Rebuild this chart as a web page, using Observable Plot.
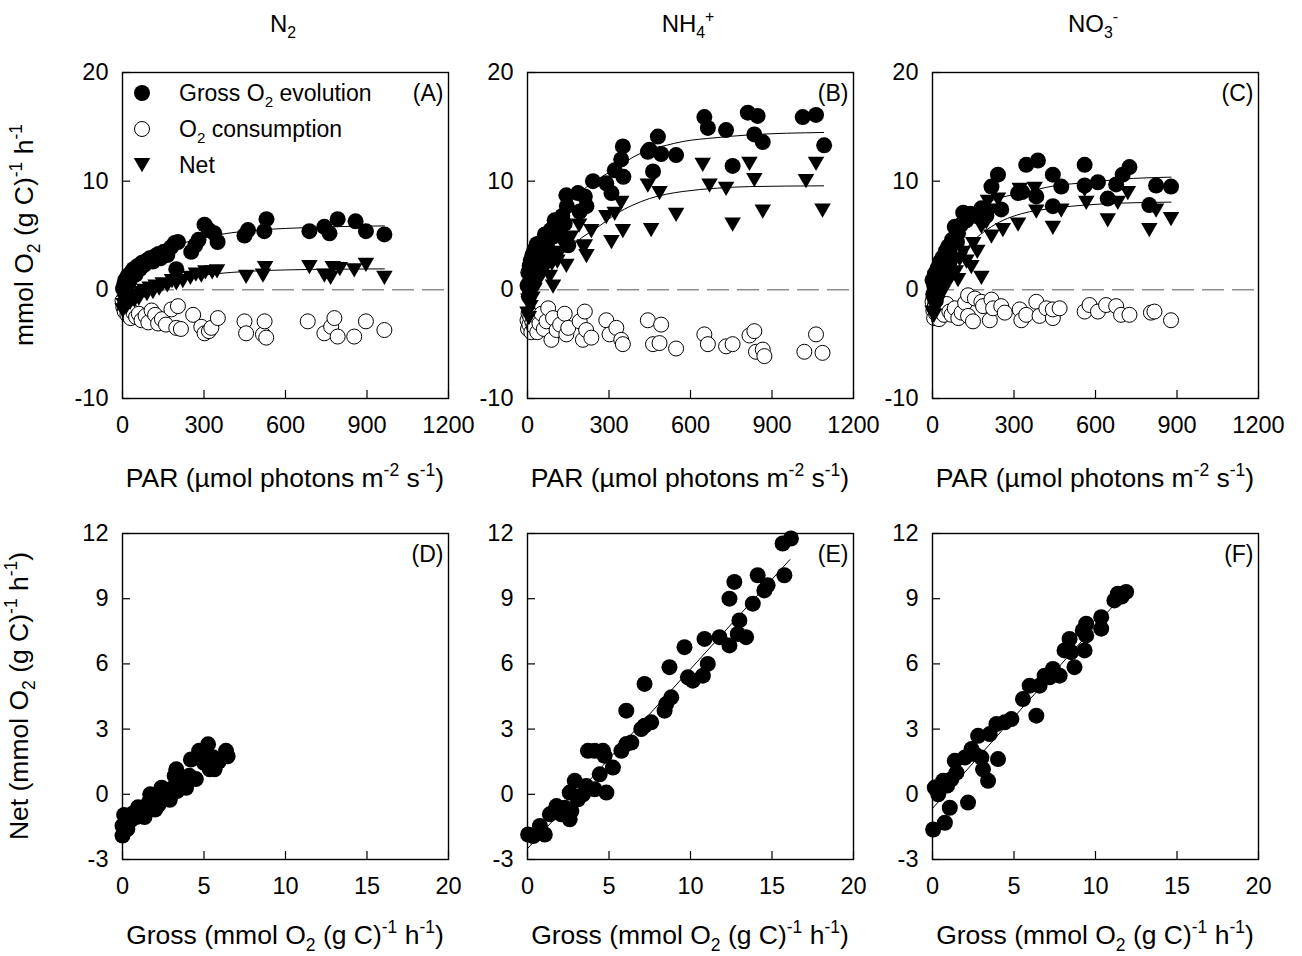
<!DOCTYPE html>
<html><head><meta charset="utf-8">
<script src="https://cdn.jsdelivr.net/npm/d3@7"></script>
<script src="https://cdn.jsdelivr.net/npm/@observablehq/plot@0.6"></script>
<style>
body{margin:0;background:#fff;}
#fig{position:relative;width:1302px;height:956px;overflow:hidden;font-family:"Liberation Sans",Arial,Helvetica,sans-serif;}
#fig svg.panel{position:absolute;}
</style></head><body><div id="fig"></div>
<script>
// ---------- data: [PAR, rate] ----------
const grossA = [[2,0.1],[6,0.5],[10,0.9],[14,0.3],[20,1.3],[26,0.8],[32,1.6],[40,1.9],[48,1.4],[56,2.2],[64,1.9],[72,2.5],[80,2.3],[90,2.7],[100,2.9],[112,2.6],[120,3.1],[132,3.3],[140,2.9],[152,3.5],[165,3.2],[178,3.9],[192,4.3],[198,1.9],[204,4.4],[253,3.5],[268,4.1],[280,4.6],[302,6.0],[318,5.5],[338,5.2],[350,4.4],[449,5.0],[462,5.5],[522,5.4],[530,6.5],[688,5.4],[743,5.8],[762,5.2],[792,6.5],[858,6.3],[896,5.4],[964,5.1]];
const netA = [[0,-1.9],[4,-1.4],[8,-1.1],[14,-1.6],[20,-0.9],[28,-1.2],[36,-0.7],[44,-1.0],[52,-0.5],[60,-0.8],[70,-0.3],[80,-0.1],[90,-0.4],[100,0.1],[112,-0.2],[122,0.3],[135,0.1],[148,0.5],[165,0.4],[182,0.8],[198,0.6],[222,0.8],[250,1.1],[270,1.4],[290,1.3],[305,1.6],[330,1.6],[348,1.7],[455,1.2],[517,1.3],[525,2.0],[688,2.1],[743,1.3],[766,1.1],[774,2.0],[800,1.9],[853,1.8],[896,2.3],[964,1.1]];
const consA = [[0,-1.0],[3,-1.6],[8,-2.0],[12,-1.4],[18,-2.3],[25,-1.8],[30,-2.6],[40,-2.1],[50,-2.5],[60,-2.2],[70,-2.8],[85,-2.4],[95,-3.0],[107,-1.9],[120,-2.3],[131,-3.1],[145,-2.7],[160,-3.2],[180,-1.8],[198,-3.5],[204,-1.5],[215,-3.6],[260,-2.3],[290,-3.4],[302,-4.0],[318,-3.8],[327,-3.5],[351,-2.6],[449,-2.9],[455,-4.0],[517,-4.1],[523,-2.9],[529,-4.4],[682,-2.9],[743,-4.0],[768,-3.4],[780,-2.6],[792,-4.3],[853,-4.3],[896,-2.9],[964,-3.7]];

const grossB = [[0,0.4],[3,1.6],[5,-0.6],[8,2.2],[10,0.9],[12,2.7],[15,1.3],[18,3.2],[22,2.0],[26,3.7],[30,1.6],[34,4.2],[40,2.9],[46,3.5],[52,4.4],[58,3.0],[64,5.1],[72,4.0],[76,4.6],[85,5.5],[94,4.9],[100,6.4],[110,5.6],[119,5.0],[128,6.8],[137,6.1],[143,8.7],[145,7.7],[150,4.1],[186,8.9],[192,7.2],[211,8.6],[217,7.7],[241,10.0],[290,9.8],[309,8.9],[321,11.0],[345,12.0],[351,13.2],[353,10.4],[443,12.7],[449,12.9],[462,10.9],[480,14.1],[492,12.5],[547,12.4],[651,15.9],[664,14.9],[731,14.7],[755,11.4],[811,16.3],[835,14.3],[847,16.0],[866,13.6],[1013,15.9],[1062,16.1],[1092,13.3]];
const netB = [[0,-2.2],[3,-1.0],[5,-2.6],[8,-0.4],[11,-1.6],[14,0.4],[18,-0.8],[22,1.1],[26,0.0],[30,1.6],[35,0.6],[40,2.0],[46,1.2],[52,2.6],[58,1.6],[64,3.0],[70,2.2],[82,1.2],[90,2.4],[94,0.3],[100,3.2],[110,2.6],[119,3.4],[130,4.2],[143,2.2],[160,4.8],[190,5.9],[205,3.9],[211,4.0],[217,3.1],[235,5.4],[290,6.7],[309,4.4],[321,7.0],[345,8.0],[351,5.4],[443,9.6],[455,5.5],[486,8.9],[547,6.9],[645,11.5],[670,9.6],[731,9.3],[755,6.0],[817,11.6],[835,10.1],[866,7.2],[1025,10.0],[1062,11.6],[1086,7.3]];
const consB = [[0,-2.8],[2,-3.6],[4,-2.2],[7,-3.2],[10,-2.5],[14,-3.9],[18,-3.0],[24,-3.4],[30,-2.4],[36,-3.9],[44,-3.1],[52,-2.2],[60,-3.6],[70,-2.9],[76,-1.7],[88,-4.6],[94,-2.6],[107,-3.7],[120,-3.2],[137,-2.2],[143,-4.1],[150,-3.5],[192,-2.9],[204,-4.6],[211,-2.0],[216,-3.7],[235,-4.4],[290,-2.8],[302,-4.1],[327,-3.5],[345,-4.6],[351,-5.0],[443,-2.8],[462,-5.0],[486,-4.9],[492,-3.2],[547,-5.4],[651,-4.1],[664,-5.0],[731,-5.2],[755,-5.0],[817,-4.2],[835,-3.8],[841,-5.7],[866,-5.5],[872,-6.1],[1019,-5.7],[1062,-4.1],[1086,-5.8]];

const grossC = [[0,0.9],[3,-0.4],[6,0.4],[9,1.5],[12,-1.0],[15,0.8],[19,2.0],[23,1.2],[28,2.6],[33,2.1],[38,3.0],[44,2.4],[50,3.6],[58,4.0],[64,3.3],[72,4.6],[82,5.8],[90,4.4],[94,5.2],[105,6.0],[113,7.1],[125,6.4],[140,7.0],[160,6.8],[180,7.5],[198,6.8],[217,9.5],[241,10.6],[253,7.4],[315,8.9],[330,9.0],[345,11.5],[382,8.6],[388,11.9],[443,10.6],[443,7.7],[474,9.5],[560,11.5],[560,9.6],[609,9.9],[645,8.4],[676,9.7],[700,10.6],[725,11.3],[798,7.8],[823,9.6],[878,9.5]];
const netC = [[0,-2.1],[3,-1.3],[5,-2.4],[8,-0.9],[11,-1.7],[14,-0.4],[18,-1.2],[22,0.2],[27,-0.6],[32,0.8],[38,-0.2],[45,1.3],[52,0.5],[60,1.8],[68,1.1],[76,2.4],[86,1.6],[94,0.9],[100,2.8],[112,3.4],[125,2.6],[143,2.1],[150,4.2],[165,3.5],[180,1.1],[180,5.8],[198,6.2],[204,8.1],[217,4.9],[217,7.3],[241,8.3],[259,5.5],[315,6.0],[321,9.2],[376,9.3],[382,7.2],[443,5.7],[474,7.3],[560,9.2],[566,8.0],[645,6.4],[682,8.0],[719,8.9],[798,5.5],[823,7.3],[878,6.5]];
const consC = [[0,-1.1],[3,-1.9],[6,-2.6],[9,-1.4],[13,-2.2],[18,-1.0],[24,-2.7],[32,-1.7],[42,-2.3],[52,-1.3],[62,-2.0],[70,-2.3],[82,-1.7],[95,-2.6],[107,-2.1],[120,-1.2],[131,-2.4],[131,-0.5],[149,-2.9],[156,-0.8],[180,-1.1],[186,-1.5],[211,-2.8],[217,-0.9],[223,-1.7],[253,-1.5],[266,-2.1],[321,-1.8],[327,-2.8],[345,-2.3],[382,-1.1],[394,-2.4],[419,-1.7],[443,-2.6],[443,-1.8],[468,-1.7],[560,-2.0],[578,-1.4],[609,-2.0],[639,-1.4],[676,-1.5],[694,-2.3],[725,-2.3],[804,-2.1],[817,-2.0],[878,-2.8]];

// fitted P-I curves
const fitParA = [0,50,100,150,200,300,400,500,600,700,800,964];
const fitGrossA = [-0.5,1.5,2.8,3.6,4.1,4.8,5.25,5.5,5.65,5.75,5.82,5.88];
const fitNetA = [-1.7,-0.7,0.0,0.5,0.85,1.35,1.6,1.75,1.83,1.88,1.9,1.93];
const fitParB = [0,50,100,150,200,266,327,388,449,511,572,694,817,1090];
const fitGrossB = [0.3,3.5,6.0,7.8,9.1,10.3,11.2,12.2,12.9,13.3,13.65,14.0,14.26,14.48];
const fitNetB = [-1.5,1.0,2.6,3.8,4.8,5.9,7.0,7.8,8.4,8.8,9.05,9.35,9.5,9.57];
const fitParC = [0,50,100,150,204,260,327,449,572,694,878];
const fitGrossC = [0.0,3.5,5.8,7.2,8.05,8.55,8.9,9.57,9.88,10.18,10.37];
const fitNetC = [-1.5,1.0,3.0,4.5,5.6,6.4,7.0,7.52,7.82,7.98,8.07];

// ---------- data: [gross, net] ----------
const gnD = [[0.0,-1.9],[0.0,-1.45],[0.1,-0.95],[0.25,-1.3],[0.3,-1.6],[0.5,-1.2],[0.6,-0.9],[0.85,-1.05],[0.95,-0.6],[1.1,-0.85],[1.35,-1.05],[1.45,-0.75],[1.6,-0.4],[1.7,0.0],[1.8,-0.45],[2.0,-0.7],[2.2,-0.5],[2.3,-0.2],[2.4,0.3],[2.6,-0.15],[2.9,-0.25],[3.1,0.3],[3.2,0.85],[3.3,1.15],[3.35,0.15],[3.6,0.45],[3.9,0.3],[4.1,0.85],[4.2,1.6],[4.5,0.7],[4.7,2.0],[4.85,1.85],[5.0,1.45],[5.25,2.3],[5.35,1.15],[5.55,1.7],[5.65,1.15],[5.9,1.5],[6.35,2.0],[6.45,1.75]];
const gnE = [[0.04,-1.85],[0.35,-1.92],[1.06,-1.85],[0.76,-1.46],[1.37,-0.92],[1.67,-0.77],[1.78,-0.54],[2.08,-0.92],[2.29,-0.62],[2.59,-1.15],[2.69,-0.77],[2.59,0.08],[2.9,0.62],[3.1,-0.23],[3.41,0.0],[3.61,0.38],[3.71,2.0],[4.12,2.0],[4.12,0.23],[4.43,0.92],[4.63,2.0],[4.84,0.08],[5.24,1.23],[4.73,1.77],[5.76,2.0],[6.06,2.31],[6.37,2.38],[6.06,3.85],[6.98,3.0],[7.18,3.15],[7.59,3.31],[7.18,5.08],[8.41,3.85],[8.51,4.15],[8.82,4.46],[8.71,5.85],[9.63,6.77],[9.84,5.38],[10.14,5.23],[10.76,5.46],[11.06,6.0],[10.86,7.15],[11.78,7.23],[12.39,6.85],[12.39,9.0],[12.69,9.77],[13.0,8.0],[12.9,7.38],[13.41,7.23],[13.82,8.77],[14.12,10.08],[14.53,9.38],[14.73,9.62],[15.76,10.08],[15.65,11.54],[16.16,11.77]];
const gnF = [[0.04,-1.62],[0.76,-1.31],[1.06,-0.62],[2.18,-0.38],[0.14,0.31],[0.35,0.0],[0.65,0.62],[0.9,0.4],[1.16,0.69],[1.37,1.54],[1.47,1.0],[1.98,1.69],[2.39,2.08],[2.59,1.85],[2.8,2.69],[3.0,1.69],[3.1,1.15],[3.41,0.62],[3.51,2.77],[3.92,3.23],[4.02,1.62],[4.43,3.31],[4.84,3.46],[5.55,4.38],[5.96,5.0],[6.37,3.62],[6.57,5.0],[6.88,5.46],[7.18,5.38],[7.39,5.77],[7.8,5.46],[8.1,6.62],[8.41,7.15],[8.51,6.54],[8.71,5.85],[9.33,6.62],[9.22,7.54],[9.43,7.85],[9.43,7.31],[10.35,8.15],[10.35,7.62],[11.16,8.92],[11.37,9.23],[11.88,9.31],[11.6,9.1]];
const fitGrossE = [0, 16.1], fitNetE = [-2.5, 10.8];
const fitGrossF = [0, 11.6], fitNetF = [-0.65, 9.1];

// ---------- axes ----------
const parTicks = [0, 300, 600, 900, 1200];
const rateTicks = [-10, 0, 10, 20];
const grossTicks = [0, 5, 10, 15, 20];
const netTicks = [-3, 0, 3, 6, 9, 12];
const columnTitles = [[["N"],["2","sub"]], [["NH"],["4","sub"],["+","sup"]], [["NO"],["3","sub"],["-","sup"]]];
const panelLetters = ["(A)","(B)","(C)","(D)","(E)","(F)"];

// ---------- layout ----------
const FONT = '"Liberation Sans", Arial, Helvetica, sans-serif';
const fig = document.getElementById("fig");
const FW = 326, FH = 326, ML = 62, MR = 16, MT = 14, MB = 50;
const colLeft = [122, 527, 932], rowTop = [72, 533];
const TICK_FS = 23.5, LABEL_FS = 26.5;

const triDown = {draw(ctx, size) {
  const r = Math.sqrt(size / Math.PI), w = r * 1.1, h = r * 0.95;
  ctx.moveTo(-w, -h); ctx.lineTo(w, -h); ctx.lineTo(0, h); ctx.closePath();
}};
const pts = (a) => a.map(([x, y]) => ({x, y}));
const fit = (xs, ys) => xs.map((x, i) => ({x, y: ys[i]}));

function panel({xDomain, xTicks, yDomain, yTicks, marks, letter, col, row}) {
  const svg = Plot.plot({
    width: FW + ML + MR, height: FH + MT + MB,
    marginLeft: ML, marginRight: MR, marginTop: MT, marginBottom: MB,
    style: {fontFamily: FONT, fontSize: TICK_FS + "px", background: "transparent", color: "black", overflow: "visible"},
    x: {domain: xDomain}, y: {domain: yDomain},
    marks: [
      ...marks,
      Plot.tickX(xTicks, {x: d => d, insetTop: FH - 8, stroke: "black", strokeWidth: 1.2}),
      Plot.tickY(yTicks, {y: d => d, insetRight: FW - 8, stroke: "black", strokeWidth: 1.2}),
      Plot.axisX({ticks: xTicks, tickSize: 0, tickPadding: 18, fontSize: TICK_FS, label: null, tickFormat: d => String(d)}),
      Plot.axisY({ticks: yTicks, tickSize: 0, tickPadding: 14, fontSize: TICK_FS, label: null, tickFormat: d => String(d)}),
      Plot.frame({stroke: "black", strokeWidth: 1.4}),
      Plot.text([letter], {text: d => d, frameAnchor: "top-right", textAnchor: "end", lineAnchor: "top", dx: -5, dy: 12, fontSize: 23})
    ]
  });
  svg.classList.add("panel");
  svg.style.left = (colLeft[col] - ML) + "px";
  svg.style.top = (rowTop[row] - MT) + "px";
  fig.appendChild(svg);
}

const top3 = [
  {gross: grossA, net: netA, cons: consA, fp: fitParA, fg: fitGrossA, fn: fitNetA},
  {gross: grossB, net: netB, cons: consB, fp: fitParB, fg: fitGrossB, fn: fitNetB},
  {gross: grossC, net: netC, cons: consC, fp: fitParC, fg: fitGrossC, fn: fitNetC}
];
top3.forEach((p, i) => panel({
  xDomain: [0, 1200], xTicks: parTicks, yDomain: [-10, 20], yTicks: rateTicks,
  letter: panelLetters[i], col: i, row: 0,
  marks: [
    Plot.ruleY([0], {stroke: "#555", strokeWidth: 1, strokeDasharray: "22,8"}),
    Plot.line(fit(p.fp, p.fg), {x: "x", y: "y", curve: "monotone-x", stroke: "black", strokeWidth: 1}),
    Plot.line(fit(p.fp, p.fn), {x: "x", y: "y", curve: "monotone-x", stroke: "black", strokeWidth: 1}),
    Plot.dot(pts(p.cons), {x: "x", y: "y", r: 7.5, fill: "white", stroke: "black", strokeWidth: 1}),
    Plot.dot(pts(p.gross), {x: "x", y: "y", r: 8, fill: "black", stroke: "none"}),
    Plot.dot(pts(p.net), {x: "x", y: "y", r: 7.5, symbol: triDown, fill: "black", stroke: "none"})
  ]
}));

const bottom3 = [
  {pts: gnD, fg: null, fn: null},
  {pts: gnE, fg: fitGrossE, fn: fitNetE},
  {pts: gnF, fg: fitGrossF, fn: fitNetF}
];
bottom3.forEach((p, i) => panel({
  xDomain: [0, 20], xTicks: grossTicks, yDomain: [-3, 12], yTicks: netTicks,
  letter: panelLetters[i + 3], col: i, row: 1,
  marks: [
    ...(p.fg ? [Plot.line(fit(p.fg, p.fn), {x: "x", y: "y", stroke: "black", strokeWidth: 1})] : []),
    Plot.dot(pts(p.pts), {x: "x", y: "y", r: 8, fill: "black", stroke: "none"})
  ]
}));

// ---------- text overlay (titles, axis labels, legend) ----------
const ov = d3.select(fig).append("svg")
  .attr("width", 1302).attr("height", 956)
  .style("position", "absolute").style("left", 0).style("top", 0)
  .style("font-family", FONT).style("pointer-events", "none");

function rich(g, segs, size, anchor) {
  const t = g.append("text").attr("font-size", size).attr("fill", "black")
    .attr("text-anchor", anchor || "middle").style("white-space", "pre");
  let cur = 0;
  for (const [s, k] of segs) {
    const off = k === "sub" ? 0.26 * size : k === "sup" ? -0.42 * size : 0;
    t.append("tspan").attr("dy", off - cur).attr("font-size", k ? size * 0.66 : size).text(s);
    cur = off;
  }
  return t;
}
const parLabel = [["PAR (µmol photons m"],["-2","sup"],[" s"],["-1","sup"],[")"]];
const grossLabel = [["Gross (mmol O"],["2","sub"],[" (g C)"],["-1","sup"],[" h"],["-1","sup"],[")"]];
const rateLabel = [["mmol O"],["2","sub"],[" (g C)"],["-1","sup"],[" h"],["-1","sup"]];
const netLabel = [["Net (mmol O"],["2","sub"],[" (g C)"],["-1","sup"],[" h"],["-1","sup"],[")"]];

colLeft.forEach((L, i) => {
  const cx = L + FW / 2;
  rich(ov.append("g").attr("transform", `translate(${cx - 2},32)`), columnTitles[i], 24);
  rich(ov.append("g").attr("transform", `translate(${cx},487)`), parLabel, LABEL_FS);
  rich(ov.append("g").attr("transform", `translate(${cx},944)`), grossLabel, LABEL_FS);
});
rich(ov.append("g").attr("transform", `translate(33,${rowTop[0] + FH / 2}) rotate(-90)`), rateLabel, LABEL_FS);
rich(ov.append("g").attr("transform", `translate(28,${rowTop[1] + FH / 2}) rotate(-90)`), netLabel, LABEL_FS);

// legend in panel A
const legendItems = [
  {label: [["Gross O"],["2","sub"],[" evolution"]], kind: "gross"},
  {label: [["O"],["2","sub"],[" consumption"]], kind: "cons"},
  {label: [["Net"]], kind: "net"}
];
const lg = ov.append("g");
legendItems.forEach((it, i) => {
  const cy = 93 + i * 36, sx = 142;
  if (it.kind === "gross") lg.append("circle").attr("cx", sx).attr("cy", cy).attr("r", 8).attr("fill", "black");
  else if (it.kind === "cons") lg.append("circle").attr("cx", sx).attr("cy", cy).attr("r", 7.5).attr("fill", "white").attr("stroke", "black");
  else {
    const p = d3.path(); triDown.draw(p, Math.PI * 7.5 * 7.5);
    lg.append("path").attr("d", p.toString()).attr("transform", `translate(${sx},${cy})`).attr("fill", "black");
  }
  rich(lg.append("g").attr("transform", `translate(179,${cy + 8})`), it.label, 23, "start");
});
</script></body></html>
